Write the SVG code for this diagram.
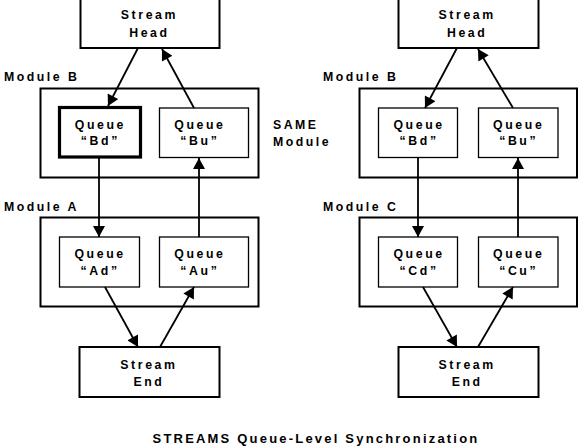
<svg xmlns="http://www.w3.org/2000/svg" width="578" height="448" viewBox="0 0 578 448">
<style>
text{font-family:"Liberation Sans",Arial,sans-serif;font-weight:bold;fill:#000}
.n{font-size:12.3px;letter-spacing:2.6px;text-anchor:middle}
.lbl{font-size:12.3px;letter-spacing:2.5px}
.title{font-size:13px;letter-spacing:2.2px;text-anchor:middle}
.box{fill:#fff;stroke:#000;stroke-width:2}
.mod{fill:#fff;stroke:#000;stroke-width:2}
.q{fill:#fff;stroke:#000;stroke-width:1.3}
.qt{fill:#fff;stroke:#000;stroke-width:3.2}
.c{stroke:#000;stroke-width:1.8;fill:none;marker-end:url(#ah)}
</style>
<defs>
<marker id="ah" markerUnits="userSpaceOnUse" markerWidth="12" markerHeight="12" viewBox="0 0 10 11" refX="10" refY="5.5" orient="auto">
<path d="M0,0 L10,5.5 L0,11 Z" fill="#000"/>
</marker>
</defs>
<rect width="578" height="448" fill="#fff"/>

<g id="mod-b-left"><rect class="mod" x="40.5" y="88.5" width="218" height="89"/></g>
<g id="mod-a-left"><rect class="mod" x="40.5" y="217.5" width="218" height="89"/></g>
<g id="mod-b-right"><rect class="mod" x="359.5" y="88.5" width="217.5" height="89"/></g>
<g id="mod-c-right"><rect class="mod" x="359.5" y="217.5" width="217.5" height="89"/></g>

<g id="head-left"><rect class="box" x="80.5" y="-3" width="139" height="51"/>
<text class="n" x="149.4" y="19">Stream</text><text class="n" x="149.4" y="36.5">Head</text></g>
<g id="bd-left"><rect class="qt" x="59.5" y="107.5" width="81" height="49.5"/>
<text class="n" x="100.4" y="129">Queue</text><text class="n" x="100.4" y="145">“Bd”</text></g>
<g id="bu-left"><rect class="q" x="159.5" y="108" width="89" height="49.5"/>
<text class="n" x="199.9" y="129">Queue</text><text class="n" x="199.9" y="145">“Bu”</text></g>
<g id="ad-left"><rect class="q" x="59.5" y="237" width="80" height="50"/>
<text class="n" x="100.1" y="258">Queue</text><text class="n" x="100.1" y="275">“Ad”</text></g>
<g id="au-left"><rect class="q" x="159.5" y="237" width="89" height="50"/>
<text class="n" x="199.9" y="258">Queue</text><text class="n" x="199.9" y="275">“Au”</text></g>
<g id="end-left"><rect class="box" x="79.5" y="347" width="140" height="50"/>
<text class="n" x="148.9" y="368.5">Stream</text><text class="n" x="148.9" y="385.5">End</text></g>

<g id="head-right"><rect class="box" x="398.5" y="-3" width="140" height="51"/>
<text class="n" x="467.2" y="19">Stream</text><text class="n" x="467.2" y="36.5">Head</text></g>
<g id="bd-right"><rect class="q" x="378.5" y="108" width="79" height="49.5"/>
<text class="n" x="419.1" y="129">Queue</text><text class="n" x="419.1" y="145">“Bd”</text></g>
<g id="bu-right"><rect class="q" x="478.5" y="108" width="79.5" height="49.5"/>
<text class="n" x="518.7" y="129">Queue</text><text class="n" x="518.7" y="145">“Bu”</text></g>
<g id="cd-right"><rect class="q" x="378.5" y="237" width="79" height="50"/>
<text class="n" x="419.1" y="258">Queue</text><text class="n" x="419.1" y="275">“Cd”</text></g>
<g id="cu-right"><rect class="q" x="478.5" y="237" width="79.5" height="50"/>
<text class="n" x="518.7" y="258">Queue</text><text class="n" x="518.7" y="275">“Cu”</text></g>
<g id="end-right"><rect class="box" x="398.5" y="347" width="140" height="50"/>
<text class="n" x="467.2" y="368.5">Stream</text><text class="n" x="467.2" y="385.5">End</text></g>

<g id="connectors">
<line class="c" x1="138" y1="48" x2="108" y2="106"/>
<line class="c" x1="194" y1="108" x2="162" y2="49"/>
<line class="c" x1="99" y1="158" x2="99" y2="237"/>
<line class="c" x1="199" y1="237" x2="199" y2="158"/>
<line class="c" x1="105" y1="287" x2="138" y2="347"/>
<line class="c" x1="160" y1="347" x2="194" y2="287"/>
<line class="c" x1="457" y1="48" x2="425" y2="108"/>
<line class="c" x1="513" y1="108" x2="478" y2="49"/>
<line class="c" x1="418" y1="158" x2="418" y2="237"/>
<line class="c" x1="518" y1="237" x2="518" y2="158"/>
<line class="c" x1="423" y1="287" x2="457" y2="347"/>
<line class="c" x1="478" y1="347" x2="513" y2="287"/>
</g>

<g id="labels">
<text class="lbl" x="4" y="81">Module B</text>
<text class="lbl" x="4" y="210.5">Module A</text>
<text class="lbl" x="323" y="81">Module B</text>
<text class="lbl" x="323" y="210.5">Module C</text>
<text class="lbl" x="273" y="128.5">SAME</text>
<text class="lbl" x="273" y="146">Module</text>
<text class="title" x="316" y="443">STREAMS Queue-Level Synchronization</text>
</g>
</svg>
